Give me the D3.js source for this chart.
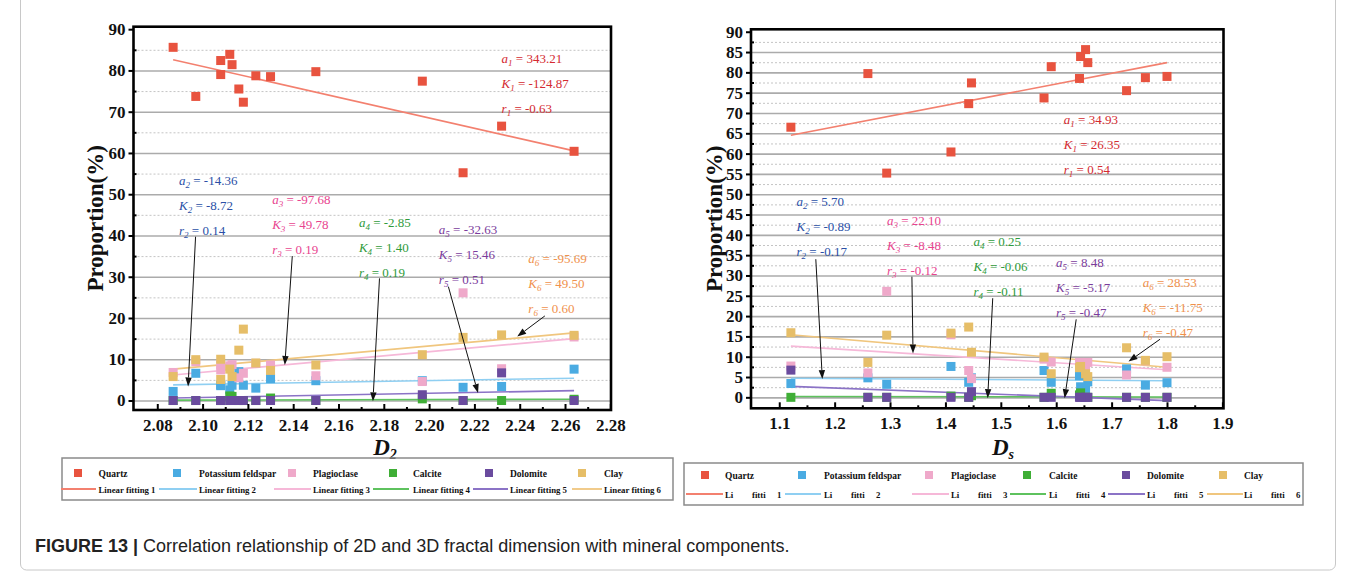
<!DOCTYPE html>
<html>
<head>
<meta charset="utf-8">
<script src="https://cdn.jsdelivr.net/npm/d3@7"></script>
<style>
  body { margin: 0; background: #fff; }
  svg text { font-family: "Liberation Serif", "Times New Roman", serif; }
  svg text.caption { font-family: "Liberation Sans", Arial, sans-serif; }
</style>
</head>
<body>
<svg id="fig" width="1356" height="573"></svg>
<script>
// ---- data: 15 samples ----
const d2Values = [2.087, 2.097, 2.108, 2.108, 2.112, 2.113, 2.116, 2.118, 2.1235, 2.130, 2.150, 2.197, 2.215, 2.232, 2.264];
const dsValues = [1.653, 1.578, 1.657, 1.800, 1.644, 1.591, 1.727, 1.442, 1.761, 1.642, 1.260, 1.447, 1.294, 1.121, 1.410];

const quartz      = [85.6, 73.7, 82.4, 79.0, 83.9, 81.4, 75.5, 72.3, 78.7, 78.5, 79.7, 77.4, 55.2, 66.5, 60.4];
const kFeldspar   = [2.2, 6.6, 3.8, 3.6, 2.6, 3.7, 7.0, 3.7, 3.0, 5.3, 4.8, 4.8, 3.2, 3.4, 7.6];
const plagioclase = [6.8, 9.4, 8.6, 7.4, 8.4, 8.7, 5.5, 6.6, 9.0, 8.6, 6.0, 4.6, 26.1, 7.7, 15.4];
const calcite     = [0, 0, 0, 0, 1.1, 1.0, 0, 0, 0, 0.6, 0, 0.4, 0, 0, 0.3];
const dolomite    = [0, 0, 0, 0, 0, 0, 0, 0, 0, 0, 0, 1.4, 0, 6.7, 0];
const clay        = [5.8, 9.9, 5.1, 10.0, 7.6, 5.8, 12.2, 17.3, 9.1, 7.3, 8.6, 11.1, 15.3, 15.9, 15.8];

const mineralNames = ["Quartz", "Potassium feldspar", "Plagioclase", "Calcite", "Dolomite", "Clay"];
const mineralData = [quartz, kFeldspar, plagioclase, calcite, dolomite, clay];

// linear fitting lines: value at the smallest and largest x of each panel
const fitStartD2 = [82.6, 3.8, 6.2, 0.1, 0.6, 7.6];
const fitEndD2   = [60.5, 5.4, 15.0, 0.3, 2.4, 16.4];
const fitStartDs = [64.5, 4.7, 12.6, 0.2, 2.7, 15.4];
const fitEndDs   = [82.4, 4.1, 6.8, 0.1, -0.8, 7.4];

// printed fit statistics
const aD2 = ["343.21", "-14.36", "-97.68", "-2.85", "-32.63", "-95.69"];
const kD2 = ["-124.87", "-8.72", "49.78", "1.40", "15.46", "49.50"];
const rD2 = ["-0.63", "0.14", "0.19", "0.19", "0.51", "0.60"];
const aDs = ["34.93", "5.70", "22.10", "0.25", "8.48", "28.53"];
const kDs = ["26.35", "-0.89", "-8.48", "-0.06", "-5.17", "-11.75"];
const rDs = ["0.54", "-0.17", "-0.12", "-0.11", "-0.47", "-0.47"];

// ---- styles ----
const markerColors = ["#e8533f", "#4aabe2", "#efa9ca", "#3fae36", "#6a4b9e", "#e6be68"];
const fitColors    = ["#f3806f", "#8fcff2", "#f6b8d8", "#5ec25e", "#8b73c6", "#f0c67e"];
const statColors   = ["#d42a30", "#2a4fa6", "#e8448f", "#2f9b3b", "#7b3c9c", "#f0914c"];

const svg = d3.select("#fig");

// outer figure frame
svg.append("rect")
  .attr("x", 20.5).attr("y", -10).attr("width", 1315).attr("height", 580)
  .attr("rx", 6)
  .attr("fill", "none").attr("stroke", "#c8c8c8").attr("stroke-width", 1);

function drawPanel(opt) {
  const g = svg.append("g");
  const x = d3.scaleLinear().domain(opt.xDomain).range(opt.xRange);
  const y = d3.scaleLinear().domain(opt.yDomain).range(opt.yRange);
  const [x0, x1] = opt.xRange;
  const [y0, y1] = [opt.yRange[1], opt.yRange[0]]; // top, bottom

  // minor dotted grid
  g.append("g")
    .attr("transform", `translate(${x0},0)`)
    .call(d3.axisLeft(y).tickValues(opt.yMinor).tickSize(-(x1 - x0)).tickFormat(""))
    .call(s => s.select(".domain").remove())
    .call(s => s.selectAll("line").attr("stroke", "#c4c4c4").attr("stroke-width", 1).attr("stroke-dasharray", "2,2"));

  // major grid
  g.append("g")
    .attr("transform", `translate(${x0},0)`)
    .call(d3.axisLeft(y).tickValues(opt.yMajor).tickSize(-(x1 - x0)).tickFormat(""))
    .call(s => s.select(".domain").remove())
    .call(s => s.selectAll("line").attr("stroke", "#ababab").attr("stroke-width", 1.6));

  // fitted lines
  const [xmin, xmax] = d3.extent(opt.xs);
  opt.fitStart.forEach((v, i) => {
    g.append("line")
      .attr("x1", x(xmin)).attr("y1", y(v))
      .attr("x2", x(xmax)).attr("y2", y(opt.fitEnd[i]))
      .attr("stroke", fitColors[i]).attr("stroke-width", 1.6);
  });

  // points
  const sz = 9;
  mineralData.forEach((vals, i) => {
    g.append("g").selectAll("rect")
      .data(vals)
      .join("rect")
      .attr("x", (d, j) => x(opt.xs[j]) - sz / 2)
      .attr("y", d => y(d) - sz / 2)
      .attr("width", sz).attr("height", sz)
      .attr("fill", markerColors[i]);
  });

  // arrows
  opt.arrows.forEach(a => {
    const p1 = [x(a[0]), y(a[1])], p2 = [x(a[2]), y(a[3])];
    const ang = Math.atan2(p2[1] - p1[1], p2[0] - p1[0]);
    const L = 9, W = 3.2;
    const bx = p2[0] - L * Math.cos(ang), by = p2[1] - L * Math.sin(ang);
    g.append("line")
      .attr("x1", p1[0]).attr("y1", p1[1]).attr("x2", bx).attr("y2", by)
      .attr("stroke", "#111").attr("stroke-width", 1);
    g.append("path")
      .attr("d", `M${p2[0]},${p2[1]} L${bx - W * Math.sin(ang)},${by + W * Math.cos(ang)} L${bx + W * Math.sin(ang)},${by - W * Math.cos(ang)} Z`)
      .attr("fill", "#111");
  });

  // stats text
  opt.statPos.forEach((p, i) => {
    const rows = [["a", opt.a[i]], ["K", opt.k[i]], ["r", opt.r[i]]];
    rows.forEach((row, k) => {
      const t = g.append("text")
        .attr("x", x(p[0])).attr("y", y(p[1]) + 4 + k * opt.statStep)
        .attr("fill", statColors[i]).attr("font-size", 13);
      t.append("tspan").attr("font-style", "italic").text(row[0]);
      t.append("tspan").attr("font-style", "italic").attr("font-size", 9).attr("dy", 3).text(i + 1);
      t.append("tspan").attr("dy", -3).text(" = " + row[1]);
    });
  });

  // frame
  g.append("rect")
    .attr("x", x0).attr("y", y0).attr("width", x1 - x0).attr("height", y1 - y0)
    .attr("fill", "none").attr("stroke", "#000").attr("stroke-width", 2.6);

  // y axis: major ticks outward with labels, minor ticks inward
  g.append("g")
    .attr("transform", `translate(${x0},0)`)
    .call(d3.axisLeft(y).tickValues(opt.yMajor.concat([90])).tickSize(5).tickPadding(3).tickFormat(d3.format("d")))
    .call(s => s.select(".domain").remove())
    .call(s => s.selectAll("line").attr("stroke", "#000").attr("stroke-width", 2))
    .call(s => s.selectAll("text").attr("font-size", 17).attr("font-weight", "bold").attr("fill", "#111"));
  g.append("g")
    .attr("transform", `translate(${x0},0)`)
    .call(d3.axisRight(y).tickValues(opt.yMinor).tickSize(3).tickFormat(""))
    .call(s => s.select(".domain").remove())
    .call(s => s.selectAll("line").attr("stroke", "#000").attr("stroke-width", 2));

  // x axis
  g.append("g")
    .attr("transform", `translate(0,${y1})`)
    .call(d3.axisTop(x).tickValues(opt.xMajor).tickSize(6).tickFormat(""))
    .call(s => s.select(".domain").remove())
    .call(s => s.selectAll("line").attr("stroke", "#000").attr("stroke-width", 2));
  g.append("g")
    .attr("transform", `translate(0,${y1})`)
    .call(d3.axisTop(x).tickValues(opt.xMinor).tickSize(3).tickFormat(""))
    .call(s => s.select(".domain").remove())
    .call(s => s.selectAll("line").attr("stroke", "#000").attr("stroke-width", 2));
  g.append("g")
    .attr("transform", `translate(0,${y1})`)
    .call(d3.axisBottom(x).tickValues(opt.xMajor).tickSize(0).tickPadding(9).tickFormat(opt.xFormat))
    .call(s => s.select(".domain").remove())
    .call(s => s.selectAll("text").attr("font-size", 17).attr("font-weight", "bold").attr("fill", "#111"));

  // y title
  g.append("text")
    .attr("transform", `translate(${opt.yTitleX},${(y0 + y1) / 2}) rotate(-90)`)
    .attr("text-anchor", "middle").attr("dy", "0.35em")
    .attr("font-size", 23).attr("font-weight", "bold").attr("fill", "#111")
    .text("Proportion(%)");

  // x title
  const xt = g.append("text")
    .attr("x", opt.xTitleX).attr("y", opt.xTitleY)
    .attr("text-anchor", "middle")
    .attr("font-size", 23).attr("font-weight", "bold").attr("font-style", "italic").attr("fill", "#111");
  xt.append("tspan").text("D");
  xt.append("tspan").attr("font-size", 14).attr("dy", 4).text(opt.xSub);

  // legend
  const lg = svg.append("g");
  const lb = opt.legend;
  lg.append("rect")
    .attr("x", lb.box[0]).attr("y", lb.box[1]).attr("width", lb.box[2]).attr("height", lb.box[3])
    .attr("fill", "none").attr("stroke", "#8a8a8a").attr("stroke-width", 1.5);
  mineralNames.forEach((name, i) => {
    lg.append("rect")
      .attr("x", lb.marker[i] - 4).attr("y", lb.row1 - 4).attr("width", 8).attr("height", 8)
      .attr("fill", markerColors[i]);
    lg.append("text")
      .attr("x", lb.text[i]).attr("y", lb.row1 + 4)
      .attr("font-size", 9.5).attr("font-weight", "bold").attr("fill", "#111")
      .text(name);
    lg.append("line")
      .attr("x1", lb.line[i][0]).attr("x2", lb.line[i][1])
      .attr("y1", lb.row2 - 3).attr("y2", lb.row2 - 3)
      .attr("stroke", fitColors[i]).attr("stroke-width", 1.8);
    lb.fitLabel(i).forEach(part => {
      lg.append("text")
        .attr("x", lb.text[i] + part[0]).attr("y", lb.row2 + 1)
        .attr("font-size", 8.8).attr("font-weight", "bold").attr("fill", "#111")
        .text(part[1]);
    });
  });
}

drawPanel({
  xs: d2Values,
  xDomain: [2.0695, 2.2803], xRange: [133.5, 611],
  yDomain: [-2.3, 90.6], yRange: [410, 26.7],
  yMajor: d3.range(0, 90, 10), yMinor: d3.range(5, 90, 10),
  xMajor: d3.range(2.08, 2.2801, 0.02), xMinor: d3.range(2.09, 2.28, 0.02),
  xFormat: d3.format(".2f"),
  fitStart: fitStartD2, fitEnd: fitEndD2,
  a: aD2, k: kD2, r: rD2,
  statPos: [[2.232, 82.8], [2.0896, 53.1], [2.1307, 48.5], [2.169, 43.0], [2.2043, 41.4], [2.2438, 34.2]],
  statStep: 25,
  arrows: [
    [2.0969, 39.7, 2.0936, 3.4],
    [2.1396, 35.0, 2.1363, 8.6],
    [2.1781, 29.6, 2.1752, -0.2],
    [2.2085, 27.6, 2.2216, 1.8],
    [2.2511, 20.5, 2.2389, 15.5]
  ],
  yTitleX: 95, xTitleX: 385, xTitleY: 455, xSub: "2",
  legend: {
    box: [62, 458, 611, 42], row1: 473, row2: 492,
    marker: [78, 177, 292, 393, 489, 582],
    text: [98.5, 199, 313, 413, 510, 604],
    line: [[61, 96], [159, 197], [274, 311], [373, 409], [473, 508], [572, 602]],
    fitLabel: i => [[0, "Linear fitting " + (i + 1)]]
  }
});

drawPanel({
  xs: dsValues,
  xDomain: [1.049, 1.902], xRange: [751, 1223.5],
  yDomain: [-2.7, 90.6], yRange: [408.3, 29.3],
  yMajor: d3.range(0, 90, 5), yMinor: d3.range(2.5, 90, 5),
  xMajor: d3.range(1.1, 1.901, 0.1), xMinor: d3.range(1.15, 1.9, 0.1),
  xFormat: d3.format(".1f"),
  fitStart: fitStartDs, fitEnd: fitEndDs,
  a: aDs, k: kDs, r: rDs,
  statPos: [[1.6137, 68.3], [1.1312, 48.2], [1.2946, 43.3], [1.4507, 38.3], [1.5997, 33.0], [1.756, 28.1]],
  statStep: 25,
  arrows: [
    [1.166, 34.0, 1.1778, 4.5],
    [1.3395, 29.7, 1.3415, 10.8],
    [1.4854, 24.4, 1.4763, -0.2],
    [1.6361, 19.2, 1.6152, -0.2],
    [1.7874, 14.3, 1.7305, 8.8]
  ],
  yTitleX: 714, xTitleX: 1003, xTitleY: 455, xSub: "s",
  legend: {
    box: [684, 463, 619, 42], row1: 475, row2: 497,
    marker: [705, 802, 929, 1027, 1126, 1223],
    text: [725, 824, 951, 1049, 1147, 1244],
    line: [[686, 723], [785, 821], [912, 949], [1010, 1046], [1108, 1145], [1207, 1243]],
    fitLabel: i => [[0, "Li"], [27, "fitti"], [52, String(i + 1)]]
  }
});

// caption
const cap = svg.append("text")
  .attr("class", "caption")
  .attr("x", 35).attr("y", 552)
  .attr("font-size", 18).attr("fill", "#222");
cap.append("tspan").attr("font-weight", "bold").text("FIGURE 13 |");
cap.append("tspan").text(" Correlation relationship of 2D and 3D fractal dimension with mineral components.");
</script>
</body>
</html>
